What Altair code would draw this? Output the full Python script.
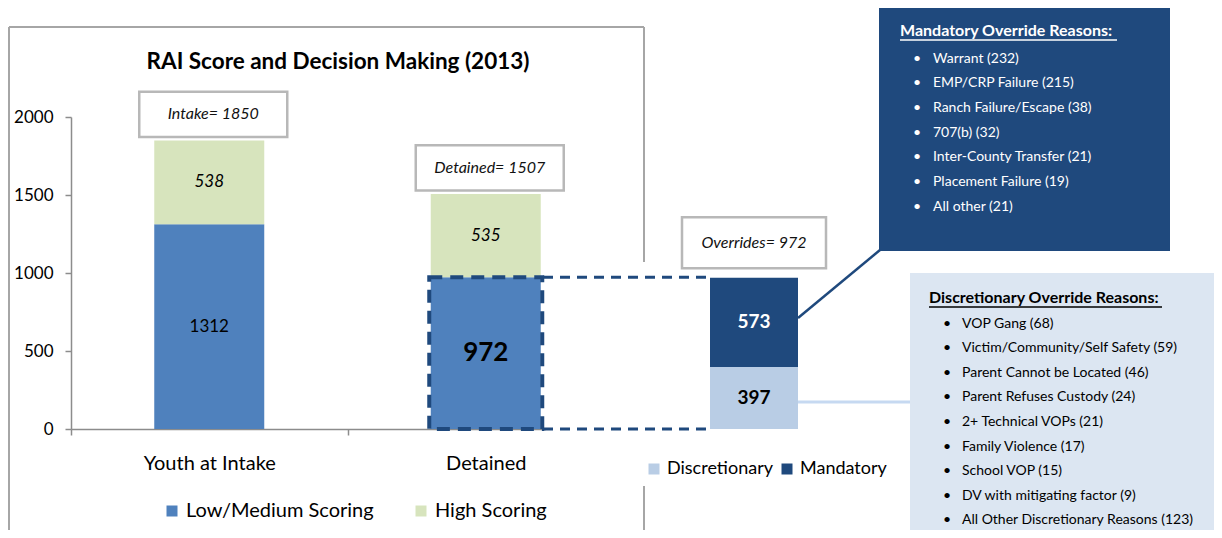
import altair as alt
import pandas as pd

# ---------------- data ----------------
categories = ["Youth at Intake", "Detained"]
low_medium = [1312, 972]
high_scoring = [538, 535]
box_names = ["Intake", "Detained"]
segments = ["Low/Medium Scoring", "High Scoring"]

override_group = ["Overrides"]
override_types = ["Discretionary", "Mandatory"]
override_counts = [397, 573]
override_total = 972

mandatory_reasons = ["Warrant", "EMP/CRP Failure", "Ranch Failure/Escape", "707(b)",
                     "Inter-County  Transfer", "Placement Failure", "All other"]
mandatory_counts = [232, 215, 38, 32, 21, 19, 21]
discretionary_reasons = ["VOP Gang", "Victim/Community/Self Safety", "Parent Cannot  be Located",
                         "Parent Refuses Custody", "2+ Technical VOPs", "Family Violence",
                         "School VOP", "DV with mitigating factor", "All Other Discretionary Reasons "]
discretionary_counts = [68, 59, 46, 24, 21, 17, 15, 9, 123]

# ---------------- styles ----------------
FONT = "Lato"
GRAY = "#8C8C8C"
BORDER = "#A6A6A6"
BLUE = "#4F81BD"
GREEN = "#D7E4BD"
NAVY = "#1F497D"
LIGHT = "#B9CDE5"
PALE = "#DCE6F2"

# ---------------- tables ----------------
rows = []
for cat, lo, hi in zip(categories, low_medium, high_scoring):
    rows.append(dict(category=cat, segment=segments[0], start=0, end=lo))
    rows.append(dict(category=cat, segment=segments[1], start=lo, end=lo + hi))
bars = pd.DataFrame(rows)
bars["mid"] = (bars["start"] + bars["end"]) / 2
bars["label"] = (bars["end"] - bars["start"]).astype(str)

totals = pd.DataFrame({
    "category": categories,
    "total": [a + b for a, b in zip(low_medium, high_scoring)],
})
totals["label"] = [f"{n}= {t}" for n, t in zip(box_names, totals["total"])]

ov_rows = []
acc = 0
for t, c in zip(override_types, override_counts):
    ov_rows.append(dict(group=override_group[0], type=t, start=acc, end=acc + c, label=str(c)))
    acc += c
ov = pd.DataFrame(ov_rows)
ov["mid"] = (ov["start"] + ov["end"]) / 2
ov_total = pd.DataFrame({"group": override_group, "total": [acc],
                         "label": [f"Overrides= {override_total}"]})

detained_low = pd.DataFrame({"category": [categories[1]], "v0": [0], "v1": [low_medium[1]]})
link_levels = pd.DataFrame({"v": [low_medium[1], 0]})
one = pd.DataFrame({"k": [0]})

# ---------------- scales / encodings ----------------
yscale = alt.Scale(domain=[0, 2000], range=[421, 109], nice=False)
yaxis = alt.Axis(values=[0, 500, 1000, 1500, 2000], title=None, grid=False,
                 domainColor=GRAY, tickColor=GRAY, tickSize=6, domainWidth=1.5, tickWidth=1.5,
                 labelFont=FONT, labelFontSize=17, labelColor="#000", labelPadding=12, format="d")


def Y(f):
    return alt.Y(f, type="quantitative", scale=yscale, axis=yaxis)


xscale_l = alt.Scale(domain=categories, range=[0, 553], paddingInner=0, paddingOuter=0)
xaxis_l = alt.Axis(title=None, labelAngle=0, tickBand="extent", labelFont=FONT, labelFontSize=20,
                   labelColor="#000", labelPadding=18, tickSize=6, domainColor=GRAY, tickColor=GRAY,
                   domainWidth=1.5, tickWidth=1.5)


def XL():
    return alt.X("category:N", scale=xscale_l, axis=xaxis_l)


xscale_r = alt.Scale(domain=override_group, range=[639, 727], paddingInner=0, paddingOuter=0)


def XR():
    return alt.X("group:N", scale=xscale_r, axis=None)


def box_shape(half_h):
    return f"M-1,-{half_h}L1,-{half_h}L1,{half_h}L-1,{half_h}Z"


# ---------------- annotation helpers ----------------
def rule(x1, y1, x2, y2, color, width, dash=None):
    kw = dict(color=color, strokeWidth=width)
    if dash:
        kw["strokeDash"] = dash
    return alt.Chart(one).mark_rule(**kw).encode(
        x=alt.value(x1), y=alt.value(y1), x2=alt.value(x2), y2=alt.value(y2))


def rect(x1, y1, x2, y2, color):
    return alt.Chart(one).mark_rect(color=color).encode(
        x=alt.value(x1), y=alt.value(y1), x2=alt.value(x2), y2=alt.value(y2))


def text(x, y, txt, size, color="#000", weight="normal", style="normal", align="left",
         baseline="top", line_height=None):
    kw = dict(font=FONT, fontSize=size, color=color, fontWeight=weight, fontStyle=style,
              align=align, baseline=baseline)
    if line_height:
        kw["lineHeight"] = line_height
    return alt.Chart(one).mark_text(**kw).encode(
        x=alt.value(x), y=alt.value(y), text=alt.value(txt))


# ---------------- background annotations ----------------
panel = alt.layer(
    rule(-62, 19, 573, 19, BORDER, 2),
    rule(-62, 19, -62, 530, BORDER, 2),
    rule(573, 19, 573, 254, BORDER, 2),
    rule(573, 478, 573, 530, BORDER, 2),
    rect(808, 0, 1099, 243, NAVY),
    rect(839, 265, 1160, 540, PALE),
)

# ---------------- left panel ----------------
bars_l = alt.Chart(bars).mark_bar(width=110).encode(
    x=XL(), y=Y("start"), y2="end",
    color=alt.Color("segment:N", scale=alt.Scale(domain=segments, range=[BLUE, GREEN]),
                    legend=alt.Legend(orient="none", legendX=91, legendY=493, direction="horizontal",
                                      title=None, symbolType="square", symbolSize=121,
                                      symbolStrokeWidth=0, labelFont=FONT, labelFontSize=20,
                                      labelColor="#000", labelOffset=4, columnPadding=37,
                                      labelLimit=400, padding=0)),
)
dash_box = alt.Chart(detained_low).mark_bar(width=113, fillOpacity=0, stroke=NAVY, strokeWidth=4,
                                             strokeDash=[13, 8]).encode(x=XL(), y=Y("v0"), y2="v1")
boxes_l = alt.Chart(totals).mark_point(shape=box_shape(0.306), size=148 * 148, filled=True,
                                       fill="white", stroke="#B8B8B8", strokeWidth=2.5, opacity=1,
                                       fillOpacity=1, yOffset=-26, xOffset=4).encode(x=XL(), y=Y("total"))
boxes_l_txt = alt.Chart(totals).mark_text(font=FONT, fontSize=16, fontStyle="italic", color="#111",
                                          yOffset=-26, xOffset=4).encode(x=XL(), y=Y("total"), text="label:N")
lbl_1312 = alt.Chart(bars).transform_filter(
    (alt.datum.segment == segments[0]) & (alt.datum.category == categories[0])
).mark_text(font=FONT, fontSize=17, color="#000").encode(x=XL(), y=Y("mid"), text="label:N")
lbl_972 = alt.Chart(bars).transform_filter(
    (alt.datum.segment == segments[0]) & (alt.datum.category == categories[1])
).mark_text(font=FONT, fontSize=26, fontWeight="bold", color="#000").encode(
    x=XL(), y=Y("mid"), text="label:N")
lbl_high = alt.Chart(bars).transform_filter(alt.datum.segment == segments[1]).mark_text(
    font=FONT, fontSize=17, fontStyle="italic", color="#000").encode(x=XL(), y=Y("mid"), text="label:N")

left = alt.layer(bars_l, dash_box, boxes_l, boxes_l_txt, lbl_1312, lbl_972, lbl_high)

# ---------------- links ----------------
links = alt.layer(
    rect(475, 418, 565, 429, "white"),
    alt.Chart(link_levels).mark_rule(color=NAVY, strokeWidth=3, strokeDash=[10, 7]).encode(
        x=alt.value(472), x2=alt.value(637), y=Y("v")),
    rule(727, 310, 809, 242, NAVY, 2.5),
    rule(727, 394, 839, 394, "#C6D9F1", 3),
)

# ---------------- right panel ----------------
bars_r = alt.Chart(ov).mark_bar(width=88).encode(
    x=XR(), y=Y("start"), y2="end",
    color=alt.Color("type:N", scale=alt.Scale(domain=override_types, range=[LIGHT, NAVY]),
                    legend=alt.Legend(orient="none", legendX=574, legendY=452, direction="horizontal",
                                      title=None, symbolType="square", symbolSize=121,
                                      symbolStrokeWidth=0, labelFont=FONT, labelFontSize=18,
                                      labelColor="#000", labelOffset=4, columnPadding=5,
                                      labelLimit=400, padding=0)),
)
lbl_ov = alt.Chart(ov).mark_text(font=FONT, fontSize=19, fontWeight="bold").encode(
    x=XR(), y=Y("mid"), text="label:N",
    color=alt.Color("type:N", scale=alt.Scale(domain=override_types, range=["#000", "#FFFFFF"]),
                    legend=None))
box_r = alt.Chart(ov_total).mark_point(shape=box_shape(0.354), size=144 * 144, filled=True,
                                       fill="white", stroke="#B8B8B8", strokeWidth=2.5, opacity=1,
                                       fillOpacity=1, yOffset=-35).encode(x=XR(), y=Y("total"))
box_r_txt = alt.Chart(ov_total).mark_text(font=FONT, fontSize=16, fontStyle="italic", color="#111",
                                          yOffset=-35).encode(x=XR(), y=Y("total"), text="label:N")
right = alt.layer(bars_r, lbl_ov, box_r, box_r_txt).resolve_scale(color="independent")

# ---------------- reason boxes ----------------
mand_lines = [f"{r} ({c})" for r, c in zip(mandatory_reasons, mandatory_counts)]
disc_lines = [f"{r} ({c})" for r, c in zip(discretionary_reasons, discretionary_counts)]
notes = alt.layer(
    text(267, 54, "RAI Score and Decision Making (2013)", 22.5, weight="bold", align="center",
         baseline="middle"),
    text(829, 23, "Mandatory Override Reasons:", 16, color="white", weight="bold", baseline="middle"),
    rule(829, 32, 1046, 32, "white", 1.5),
    text(842, 43.5, ["•"] * len(mand_lines), 14, color="white", line_height=24.7),
    text(862, 43.5, mand_lines, 14, color="white", line_height=24.7),
    text(858, 290, "Discretionary Override Reasons:", 16, color="#000", weight="bold", baseline="middle"),
    rule(858, 299, 1091, 299, "#000", 1.5),
    text(872, 308.5, ["•"] * len(disc_lines), 14, color="#000", line_height=24.6),
    text(891, 308.5, disc_lines, 14, color="#000", line_height=24.6),
)

chart = alt.layer(panel, left, links, right, notes).resolve_scale(
    x="independent", color="independent"
).properties(
    width=1143, height=421,
    background="white",
    autosize=alt.AutoSizeParams(type="none"),
    padding={"left": 63, "top": 0, "right": 0, "bottom": 101},
).configure_view(stroke=None)

chart.save("out.html", embed_options={"renderer": "svg", "actions": False})
